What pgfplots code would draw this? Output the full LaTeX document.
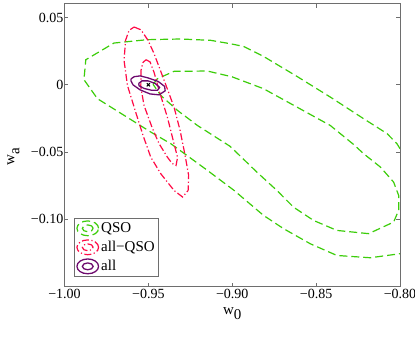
\documentclass[border=0pt]{standalone}
\usepackage{fontspec}
\setmainfont{Liberation Serif}
\usepackage{pgfplots}
\pgfplotsset{compat=1.18}
\definecolor{qso}{RGB}{60,205,10}
\definecolor{allq}{RGB}{255,10,70}
\definecolor{allc}{RGB}{110,10,110}
\definecolor{axgray}{RGB}{110,110,110}

\begin{document}
\begin{tikzpicture}
\path[use as bounding box] (-64.5pt,-55.3pt) rectangle (350.5pt,286.7pt);
\begin{axis}[
  scale only axis, width=335.5pt, height=282.7pt,
  xmin=-1.0, xmax=-0.8, ymin=-0.15, ymax=0.06,
  xtick={-1,-0.95,-0.9,-0.85,-0.8},
  xticklabels={−1.00,−0.95,−0.90,−0.85,−0.80},
  ytick={-0.1,-0.05,0,0.05},
  yticklabels={−0.10,−0.05,0,0.05},
  axis line style={axgray, line width=1pt}, tick style={axgray, line width=0.8pt},
  major tick length=4pt,
  ticklabel style={font=\fontsize{14}{16}\selectfont},
  yticklabel style={inner sep=1pt},
  xticklabel style={inner sep=2pt},
  xlabel={w\raisebox{-0.7ex}{0}},
  ylabel={w\raisebox{-0.7ex}{a}},
  label style={font=\fontsize{15}{17}\selectfont},
  xlabel style={at={(axis description cs:0.5,-0.1)},anchor=base},
  ylabel style={at={(axis description cs:-0.152,0.46)},anchor=center},
  legend style={at={(axis description cs:0.028,0.035)},anchor=south west,
    draw=axgray, line width=0.8pt, font=\fontsize{15}{17}\selectfont, inner sep=2pt, row sep=3pt},
  legend cell align=left,
  legend image code/.code={
    \draw (0.42cm,0cm) ellipse (0.38cm and 0.26cm);
    \draw (0.42cm,0cm) ellipse (0.19cm and 0.12cm);},
]
% QSO
\addplot[qso, line width=1.2pt, dash pattern=on 8pt off 4pt] coordinates {
(-0.800,-0.0475) (-0.8018,-0.0438) (-0.8077,-0.0363) (-0.8217,-0.0252)
(-0.8416,-0.0091) (-0.8614,0.0062) (-0.8814,0.0211) (-0.8933,0.0285)
(-0.9012,0.0305) (-0.9128,0.0330) (-0.9307,0.0340) (-0.9506,0.0335)
(-0.9705,0.0310) (-0.9873,0.0186) (-0.9884,0.0038) (-0.9804,-0.0103)
(-0.9645,-0.0227) (-0.9486,-0.0351) (-0.9366,-0.0438) (-0.9148,-0.0636)
(-0.8989,-0.0785) (-0.8814,-0.0970) (-0.8694,-0.1069) (-0.8535,-0.1181)
(-0.8376,-0.1268) (-0.8177,-0.1285) (-0.800,-0.1255)
};
\addlegendentry{QSO}
\addplot[qso, line width=1.2pt, dash pattern=on 8pt off 4pt, forget plot] coordinates {
(-0.9472,0.0003) (-0.9446,0.0045) (-0.9347,0.0100) (-0.9148,0.0102)
(-0.9001,0.0059) (-0.8933,0.0027) (-0.8814,-0.0029) (-0.8614,-0.0166)
(-0.8416,-0.0302) (-0.8277,-0.0443) (-0.8217,-0.0512) (-0.8117,-0.0611)
(-0.8038,-0.0723) (-0.8008,-0.0822) (-0.8008,-0.0933) (-0.8038,-0.1020)
(-0.8187,-0.1106) (-0.8376,-0.1082) (-0.8515,-0.1008) (-0.8635,-0.0909)
(-0.8734,-0.0785) (-0.8853,-0.0649) (-0.9012,-0.0458) (-0.9208,-0.0302)
(-0.9327,-0.0190) (-0.9426,-0.0079) (-0.9472,0.0003)
};
% all-QSO
\addplot[allq, line width=1.2pt, dash pattern=on 7pt off 2.5pt on 1.2pt off 2.5pt] coordinates {
(-0.9585,0.0429) (-0.9544,0.0408) (-0.9502,0.0330) (-0.9466,0.0231)
(-0.9406,0.0033) (-0.9347,-0.0166) (-0.9311,-0.0339) (-0.9281,-0.0525)
(-0.9260,-0.0673) (-0.9263,-0.0785) (-0.9296,-0.0834) (-0.9347,-0.0785)
(-0.9426,-0.0661) (-0.9486,-0.0537) (-0.9532,-0.0376) (-0.9579,-0.0190)
(-0.9625,-0.0004) (-0.9645,0.0181) (-0.9636,0.0330) (-0.9615,0.0404)
(-0.9585,0.0429)
};
\addlegendentry{all−QSO}
\addplot[allq, line width=1.2pt, dash pattern=on 7pt off 2.5pt on 1.2pt off 2.5pt, forget plot] coordinates {
(-0.9514,0.0186) (-0.9490,0.0170) (-0.9466,0.0092) (-0.9436,-0.0042)
(-0.9387,-0.0240) (-0.9347,-0.0438) (-0.9326,-0.0539) (-0.9335,-0.0599)
(-0.9359,-0.0584) (-0.9387,-0.0537) (-0.9436,-0.0438) (-0.9476,-0.0324)
(-0.9526,-0.0153) (-0.9545,-0.0017) (-0.9544,0.0107) (-0.9532,0.0166)
(-0.9514,0.0186)
};
% all
\addplot[allc, line width=1.3pt, solid] coordinates {
(-0.9603,0.0044) (-0.9585,0.0060) (-0.9549,0.0066) (-0.9502,0.0051)
(-0.9442,0.0025) (-0.9403,-0.0012) (-0.9400,-0.0045) (-0.9436,-0.0075)
(-0.9490,-0.0068) (-0.9549,-0.0038) (-0.9591,-0.0001) (-0.9604,0.0029)
(-0.9603,0.0044)
};
\addlegendentry{all}
\addplot[allc, line width=1.3pt, solid, forget plot] coordinates {
(-0.9558,0.0010) (-0.9538,0.0029) (-0.9502,0.0029) (-0.9460,0.0010)
(-0.9433,-0.0019) (-0.9445,-0.0040) (-0.9484,-0.0040) (-0.9526,-0.0027)
(-0.9555,-0.0008) (-0.9558,0.0010)
};
\addplot[black, only marks, mark=x, mark size=2.2pt, line width=1.1pt, forget plot]
  coordinates {(-0.95,0)};
\end{axis}
\end{tikzpicture}
\end{document}
